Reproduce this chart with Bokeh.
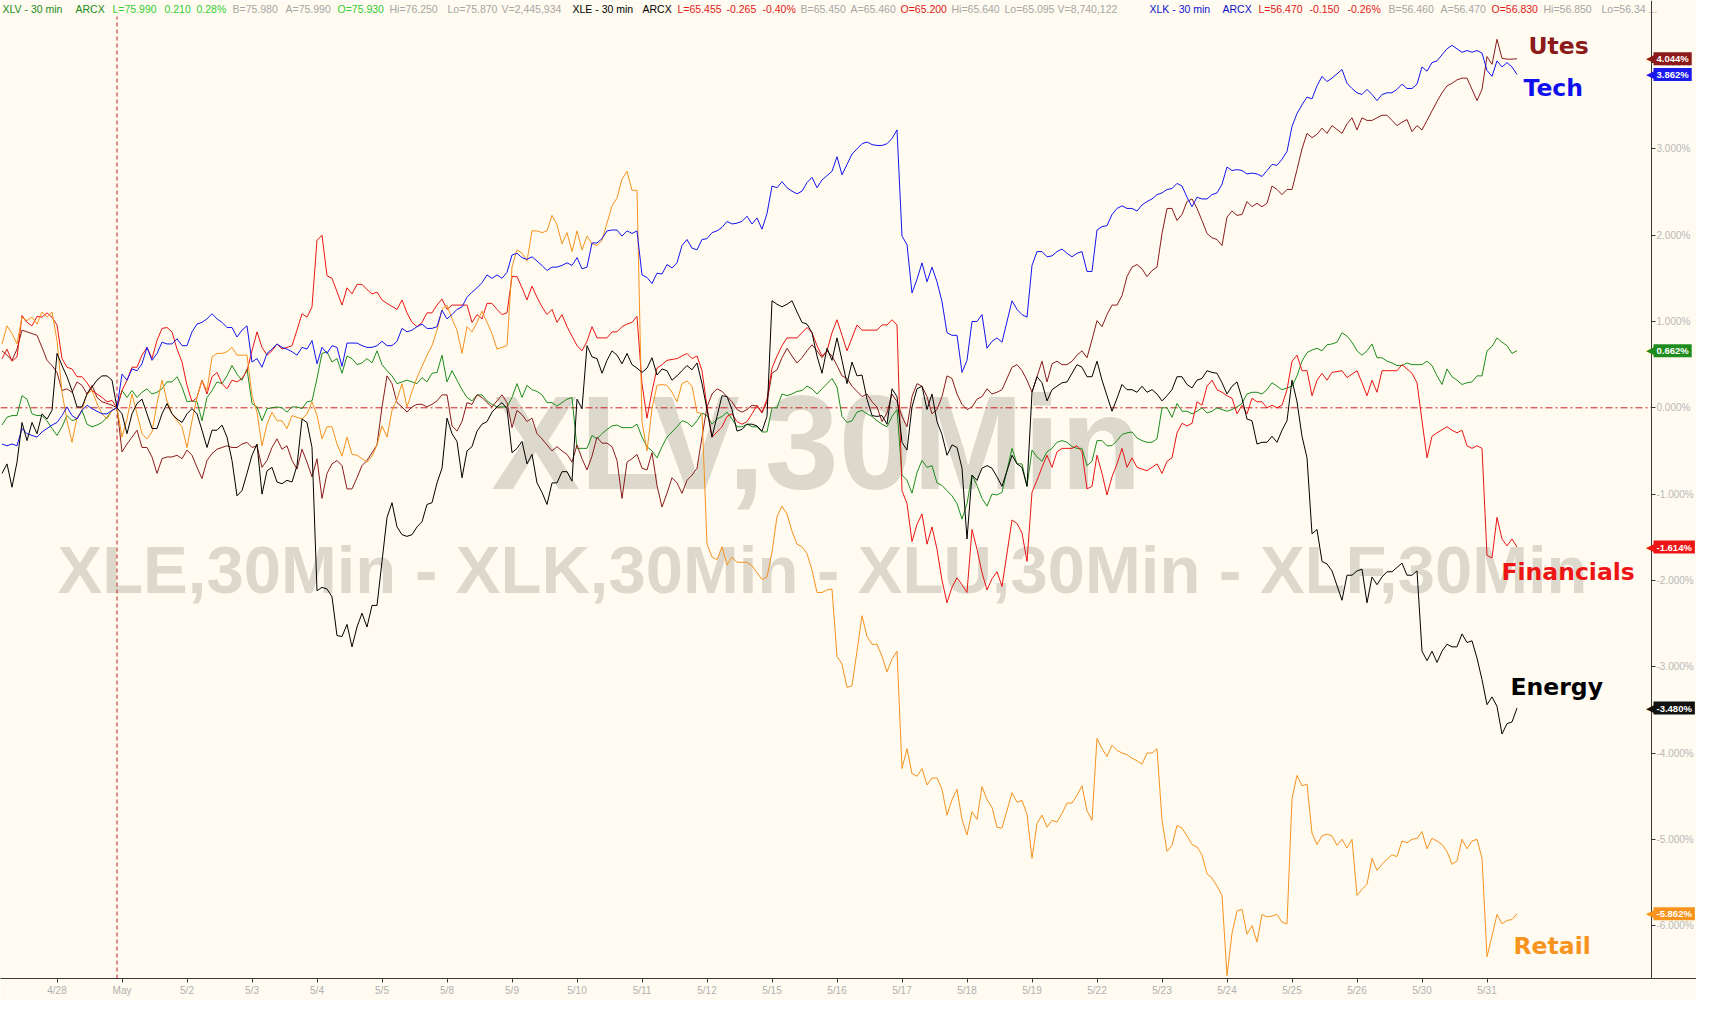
from bokeh.plotting import figure
from bokeh.models import Range1d, FixedTicker, PrintfTickFormatter, Label, ColumnDataSource
from bokeh.core.properties import value
from bokeh.embed import file_html
from bokeh.resources import INLINE

# ---------------- data (bar index: 13 half-hour bars per session, 0 = first bar of 4/28) ----------------
DAY_LABELS = ["4/28", "May", "5/2", "5/3", "5/4", "5/5", "5/8", "5/9", "5/10", "5/11", "5/12", "5/15",
              "5/16", "5/17", "5/18", "5/19", "5/22", "5/23", "5/24", "5/25", "5/26", "5/30", "5/31"]
BARS_PER_DAY = 13
BASE_BAR = 12
Y_TICKS = [-6, -5, -4, -3, -2, -1, 0, 1, 2, 3, 4]

XLF = [(-11,.57),(-10,.68),(-9,.54),(-8,.59),(-7,1.07),(-6,.99),(-5,.95),(-4,1.06),(-3,1.05),(-2,1.10),(-1,1.05),(0,.96),(1,.57),(2,.47),(3,.45),(4,.36),(5,.36),(6,.29),(7,.20),(9,.12),(10,.07),(11,.085),(12,0),(13,.20),(14,.32),(15,.47),(16,.47),(17,.61),(18,.70),(19,.57),(20,.78),(21,.92),(22,.93),(23,.88),(24,.68),(25,.53),(26,.26),(27,.07),(28,.12),(29,.32),(30,.16),(31,.36),(32,.41),(33,.28),(34,.22),(35,.32),(36,.30),(37,.34),(38,.43),(39,.66),(40,.88),(41,.70),(42,.61),(43,.66),(44,.74),(45,.68),(46,.70),(47,.72),(48,.90),(49,1.09),(50,1.05),(51,1.17),(52,1.94),(53,2.0),(54,1.53),(55,1.50),(57,1.19),(58,1.39),(59,1.32),(60,1.43),(61,1.43),(62,1.37),(63,1.32),(64,1.34),(65,1.25),(66,1.21),(68,1.14),(69,1.25),(70,1.10),(71,.99),(72,.94),(73,.99),(74,1.10),(75,1.10),(76,1.19),(77,1.26),(78,1.14),(79,1.19),(82,1.19),(83,.99),(84,1.08),(85,1.03),(86,1.21),(87,1.21),(88,1.14),(89,1.08),(90,1.10),(91,1.52),(92,1.52),(93,1.39),(94,1.25),(95,1.41),(96,1.28),(97,1.17),(98,1.08),(99,1.14),(100,.99),(101,1.08),(102,.94),(103,.83),(104,.72),(105,.66),(106,.77),(107,.94),(108,.81),(110,.81),(111,.88),(112,.88),(113,.94),(114,.97),(115,.99),(116,1.06),(117,.28),(118,-.12),(119,.19),(120,.46),(121,.50),(122,.55),(124,.57),(126,.63),(127,.57),(128,.60),(129,.43),(130,.01),(131,-.34),(132,-.28),(133,-.22),(134,-.10),(135,-.07),(136,-.16),(137,-.19),(138,-.16),(139,-.07),(140,.03),(141,-.05),(142,.10),(143,.46),(144,.60),(145,.72),(146,.81),(148,.81),(150,.93),(151,.87),(152,.72),(153,.60),(154,.66),(155,.87),(156,1.02),(157,.84),(158,.66),(159,.81),(160,.96),(161,.90),(164,.90),(165,.96),(166,.96),(167,1.02),(168,.96),(169,-.96),(170,-1.11),(171,-1.55),(172,-1.35),(173,-1.23),(174,-1.58),(175,-1.38),(176,-1.64),(177,-2.0),(178,-2.26),(179,-2.08),(180,-1.97),(181,-2.05),(182,-2.14),(183,-1.41),(184,-1.64),(185,-1.91),(186,-2.11),(187,-1.98),(188,-1.90),(189,-2.07),(191,-1.30),(192,-1.34),(193,-1.45),(194,-1.78),(195,-.98),(196,-.84),(197,-.69),(198,-.55),(199,-.69),(200,-.51),(201,-.47),(203,-.47),(204,-.44),(205,-.51),(206,-.94),(207,-.91),(208,-.55),(209,-.76),(210,-1.01),(211,-.80),(212,-.65),(213,-.47),(214,-.69),(215,-.58),(216,-.69),(218,-.73),(220,-.65),(221,-.76),(222,-.62),(223,-.58),(224,-.29),(225,-.18),(226,-.21),(227,-.18),(228,.07),(229,.03),(230,.25),(231,.32),(232,.21),(233,.18),(234,.14),(235,.11),(236,-.07),(237,.03),(238,-.07),(239,.11),(240,.07),(241,.07),(242,0),(243,.03),(244,0),(245,.03),(246,.21),(247,.54),(248,.61),(249,.43),(250,.43),(251,.14),(252,.32),(253,.40),(254,.32),(255,.41),(257,.43),(258,.35),(260,.43),(261,.29),(262,.14),(263,.32),(264,.18),(265,.43),(268,.43),(269,.50),(271,.40),(272,.29),(273,-.15),(274,-.58),(275,-.33),(276,-.29),(278,-.22),(279,-.26),(280,-.29),(281,-.26),(282,-.44),(283,-.47),(284,-.44),(285,-.47),(286,-1.71),(287,-1.74),(288,-1.27),(289,-1.52),(290,-1.60),(291,-1.52),(292,-1.614)]

XLK = [(-11,-.42),(-10,-.44),(-9,-.42),(-8,-.44),(-7,-.24),(-6,-.30),(-5,-.32),(-4,-.34),(-3,-.28),(-2,-.24),(-1,-.20),(0,-.17),(1,-.09),(2,.01),(3,-.09),(4,-.13),(5,-.03),(6,.03),(7,-.01),(8,-.04),(9,-.07),(10,-.07),(11,-.03),(12,0),(13,.39),(14,.32),(15,.45),(16,.43),(17,.51),(18,.70),(19,.55),(20,.63),(21,.76),(22,.74),(23,.74),(24,.80),(25,.72),(26,.72),(27,.88),(28,.97),(29,.99),(30,1.03),(31,1.09),(32,1.03),(33,.99),(34,.93),(35,.93),(36,.82),(37,.90),(38,.95),(39,.53),(40,.57),(41,.47),(42,.63),(43,.68),(44,.74),(45,.70),(46,.68),(47,.65),(48,.61),(49,.70),(50,.68),(51,.78),(52,.51),(53,.70),(54,.63),(55,.72),(56,.70),(57,.48),(58,.75),(60,.75),(61,.72),(62,.70),(63,.70),(64,.72),(65,.77),(66,.72),(67,.72),(68,.77),(69,.92),(70,.88),(71,.90),(72,.94),(73,.97),(74,.92),(75,.92),(76,.94),(77,1.13),(78,1.03),(79,1.08),(80,1.14),(81,1.17),(82,1.28),(83,1.34),(84,1.39),(85,1.45),(86,1.54),(87,1.50),(88,1.54),(89,1.50),(90,1.57),(91,1.77),(92,1.79),(93,1.74),(94,1.72),(95,1.75),(96,1.70),(97,1.65),(98,1.59),(99,1.63),(100,1.63),(101,1.65),(102,1.68),(103,1.65),(104,1.74),(105,1.61),(106,1.63),(107,1.91),(108,1.91),(109,1.96),(110,2.05),(111,2.06),(112,2.06),(113,1.99),(114,2.05),(115,2.02),(116,2.05),(117,1.54),(118,1.51),(119,1.44),(120,1.56),(121,1.55),(122,1.66),(123,1.62),(124,1.68),(125,1.88),(126,1.95),(127,1.85),(128,1.83),(129,1.95),(130,1.96),(131,2.03),(132,2.05),(133,2.09),(134,2.16),(135,2.13),(136,2.14),(137,2.16),(138,2.22),(139,2.13),(140,2.20),(141,2.07),(142,2.25),(143,2.57),(144,2.55),(145,2.62),(146,2.55),(147,2.51),(148,2.48),(149,2.51),(150,2.61),(151,2.67),(152,2.55),(153,2.64),(154,2.69),(155,2.74),(156,2.91),(157,2.70),(158,2.82),(159,2.94),(160,3.00),(161,3.06),(162,3.08),(163,3.05),(164,3.04),(165,3.04),(166,3.06),(167,3.12),(168,3.22),(169,1.99),(170,1.89),(171,1.33),(172,1.49),(173,1.68),(174,1.46),(175,1.63),(176,1.46),(177,1.23),(178,.87),(179,.84),(180,.84),(181,.41),(182,.55),(183,1.0),(184,1.0),(185,1.08),(186,.69),(187,.77),(188,.81),(189,.76),(191,1.24),(192,1.14),(193,1.08),(194,1.05),(195,1.65),(196,1.81),(197,1.81),(198,1.75),(199,1.76),(200,1.81),(201,1.84),(202,1.79),(203,1.75),(204,1.79),(205,1.81),(206,1.58),(207,1.58),(208,2.06),(209,2.10),(210,2.11),(211,2.24),(212,2.31),(213,2.34),(214,2.31),(215,2.31),(216,2.28),(217,2.35),(218,2.39),(219,2.42),(220,2.47),(221,2.49),(222,2.53),(223,2.54),(224,2.60),(225,2.57),(226,2.44),(227,2.33),(228,2.44),(229,2.42),(230,2.42),(231,2.47),(232,2.49),(233,2.59),(234,2.79),(235,2.75),(236,2.76),(237,2.75),(238,2.71),(239,2.72),(240,2.71),(241,2.68),(242,2.75),(243,2.82),(244,2.81),(245,2.88),(246,2.97),(247,3.26),(248,3.41),(249,3.51),(250,3.60),(251,3.58),(252,3.73),(253,3.84),(254,3.78),(255,3.82),(257,3.92),(258,3.76),(259,3.70),(260,3.65),(261,3.63),(262,3.69),(263,3.63),(264,3.56),(265,3.63),(266,3.65),(267,3.65),(268,3.69),(269,3.75),(270,3.70),(271,3.70),(272,3.75),(273,3.95),(274,3.90),(275,4.0),(276,4.02),(277,4.09),(278,4.16),(279,4.20),(280,4.16),(281,4.12),(282,4.14),(283,4.12),(284,4.14),(285,4.11),(286,3.91),(287,3.84),(288,4.02),(289,3.95),(290,4.0),(291,3.95),(292,3.862)]

XLU = [(-11,.66),(-10,.61),(-9,.55),(-8,.68),(-7,.90),(-6,.88),(-5,.86),(-4,.84),(-3,.70),(-2,.55),(-1,.49),(0,.41),(1,.20),(2,.22),(3,.18),(4,.30),(5,.26),(6,.16),(7,.26),(8,.12),(9,.07),(10,.05),(11,.03),(12,0),(13,-.51),(14,-.42),(15,-.34),(16,-.26),(17,-.46),(18,-.46),(19,-.57),(20,-.76),(21,-.59),(22,-.57),(23,-.57),(24,-.55),(25,-.59),(26,-.49),(27,-.55),(28,-.69),(29,-.82),(30,-.61),(31,-.53),(32,-.48),(33,-.46),(34,-.44),(35,-.46),(36,-.46),(37,-.42),(38,-.40),(39,-.46),(40,-.44),(41,-.69),(42,-.61),(43,-.46),(44,-.36),(45,-.48),(46,-.44),(47,-.61),(48,-.71),(49,-.48),(50,-.63),(51,-.80),(52,-.59),(53,-1.05),(54,-.76),(55,-.65),(56,-.61),(57,-.67),(58,-.94),(59,-.94),(60,-.81),(61,-.67),(62,-.61),(63,-.52),(64,-.43),(65,.01),(66,.37),(67,.28),(68,.06),(69,.01),(70,-.05),(71,.01),(72,.04),(73,.04),(74,.01),(75,.04),(76,.08),(77,.15),(78,.15),(79,-.21),(80,-.27),(81,-.16),(82,.06),(83,.04),(84,.15),(85,.12),(86,.06),(87,.01),(88,.08),(89,.15),(90,.06),(91,-.23),(92,-.03),(93,-.08),(94,-.16),(95,-.12),(96,-.30),(97,-.36),(98,-.43),(99,-.50),(100,-.45),(101,-.50),(102,-.54),(103,-.63),(104,-.43),(105,-.59),(106,-.72),(107,-.56),(108,-.34),(109,-.41),(110,-.41),(111,-.45),(112,-.61),(113,-1.05),(114,-.63),(115,-.59),(116,-.54),(117,-.70),(118,-.72),(119,-.52),(120,-.90),(121,-1.15),(122,-.99),(123,-.81),(124,-.87),(125,-.99),(126,-.84),(127,-.78),(128,-.70),(129,-.34),(130,.01),(131,.16),(132,.22),(133,.19),(134,.13),(135,.07),(136,-.02),(137,-.05),(138,-.02),(139,.03),(140,.02),(141,-.06),(142,.07),(143,.40),(144,.44),(145,.58),(146,.69),(147,.60),(148,.52),(149,.58),(150,.66),(151,.73),(152,.66),(153,.58),(154,.66),(155,.60),(156,.49),(157,.37),(158,.34),(159,.25),(160,.19),(161,.13),(162,.16),(163,.07),(164,.01),(165,-.16),(166,-.06),(167,.16),(168,.07),(169,-.10),(170,-.22),(171,.13),(172,.28),(173,.25),(174,.13),(175,-.07),(176,-.02),(177,.13),(178,.37),(179,.34),(180,.16),(181,.04),(182,-.02),(183,.01),(184,.10),(185,.13),(186,.22),(187,.16),(188,.18),(189,.21),(191,.47),(192,.50),(193,.43),(194,.32),(195,.18),(196,.36),(197,.54),(198,.30),(199,.51),(200,.54),(201,.50),(202,.50),(203,.54),(204,.61),(205,.66),(206,.58),(207,.79),(208,1.01),(209,.94),(210,1.08),(211,1.19),(212,1.19),(213,1.30),(214,1.52),(215,1.63),(216,1.66),(217,1.61),(218,1.52),(219,1.59),(220,1.63),(221,2.02),(222,2.31),(223,2.31),(224,2.17),(225,2.24),(226,2.39),(227,2.42),(228,2.31),(229,2.17),(230,2.02),(231,1.97),(232,1.95),(233,1.88),(234,2.21),(235,2.28),(236,2.23),(237,2.24),(238,2.39),(239,2.33),(240,2.37),(241,2.33),(242,2.37),(243,2.57),(244,2.53),(245,2.47),(246,2.53),(247,2.53),(248,2.76),(249,3.0),(250,3.18),(251,3.13),(252,3.17),(253,3.24),(254,3.18),(255,3.27),(257,3.18),(258,3.29),(259,3.36),(260,3.22),(261,3.36),(262,3.33),(263,3.33),(264,3.36),(265,3.39),(266,3.39),(267,3.33),(268,3.27),(269,3.31),(270,3.34),(271,3.20),(272,3.27),(273,3.22),(274,3.33),(275,3.44),(276,3.55),(277,3.65),(278,3.73),(279,3.76),(280,3.80),(281,3.82),(282,3.82),(283,3.69),(284,3.56),(285,3.69),(286,4.07),(287,3.98),(288,4.27),(289,4.05),(290,4.04),(291,4.04),(292,4.044)]

XLV = [(-11,-.20),(-10,-.11),(-9,-.09),(-8,-.09),(-7,.14),(-6,.10),(-5,-.07),(-4,-.09),(-3,-.09),(-2,-.15),(-1,-.24),(0,-.32),(1,-.22),(2,-.09),(3,-.15),(4,-.13),(5,-.03),(6,-.19),(7,-.22),(8,-.20),(9,-.17),(10,-.11),(11,-.03),(12,0),(13,.20),(14,.12),(15,.20),(16,.12),(17,.18),(18,.22),(19,.16),(20,.18),(21,.22),(22,.30),(23,.30),(24,.36),(25,.24),(26,.07),(27,.08),(28,.07),(29,-.15),(30,.12),(31,.20),(32,.30),(33,.28),(34,.37),(35,.49),(36,.39),(37,.32),(38,.45),(39,.05),(40,.01),(41,-.15),(42,-.01),(43,0),(44,.01),(45,0),(46,-.05),(47,.01),(48,.01),(49,-.01),(50,.07),(51,.08),(52,.34),(53,.63),(54,.65),(55,.53),(56,.57),(57,.40),(58,.60),(59,.57),(60,.50),(61,.52),(62,.57),(63,.52),(64,.66),(65,.50),(66,.43),(67,.37),(68,.28),(69,.30),(70,.32),(71,.30),(72,.28),(73,.35),(74,.30),(75,.40),(76,.41),(77,.61),(78,.30),(79,.43),(80,.32),(81,.21),(82,.12),(83,.08),(84,.15),(85,.15),(86,.08),(87,.04),(88,.01),(89,.01),(90,.01),(91,.12),(92,.28),(93,.12),(94,.26),(95,.21),(96,.19),(97,.15),(98,.06),(99,.06),(100,.02),(101,.06),(102,.10),(103,.12),(104,-.47),(105,-.47),(106,-.47),(107,-.32),(108,-.36),(109,-.30),(110,-.25),(111,-.21),(112,-.20),(113,-.23),(114,-.23),(115,-.23),(116,-.19),(117,-.34),(118,-.45),(119,-.50),(120,-.58),(121,-.45),(122,-.34),(123,-.28),(124,-.22),(125,-.15),(126,-.17),(127,-.22),(128,-.15),(129,-.06),(130,-.09),(131,-.19),(132,-.13),(133,-.10),(134,-.05),(135,-.13),(136,-.22),(137,-.22),(138,-.19),(139,-.22),(140,-.22),(141,-.28),(142,-.28),(143,0),(144,0),(145,.16),(146,.14),(147,.16),(148,.19),(149,.20),(150,.25),(151,.22),(152,.16),(153,.22),(154,.28),(155,.34),(156,.24),(157,-.10),(158,-.17),(159,-.15),(160,-.05),(161,-.03),(162,-.07),(163,-.10),(164,-.15),(165,-.19),(166,-.22),(167,-.10),(168,-.02),(169,-.78),(170,-.84),(171,-.99),(172,-.75),(173,-.61),(174,-.69),(175,-.67),(176,-.87),(177,-.90),(178,-.96),(179,-1.02),(180,-1.11),(181,-1.29),(182,-1.11),(183,-.78),(184,-.90),(185,-1.05),(186,-1.14),(187,-1.0),(188,-1.01),(189,-.98),(191,-.47),(192,-.65),(193,-.65),(194,-.91),(195,-.49),(196,-.57),(197,-.62),(198,-.51),(199,-.47),(200,-.40),(201,-.38),(202,-.40),(203,-.45),(204,-.47),(205,-.47),(206,-.67),(207,-.62),(208,-.38),(209,-.38),(210,-.44),(211,-.44),(212,-.38),(213,-.31),(214,-.29),(215,-.28),(216,-.35),(217,-.38),(218,-.40),(219,-.40),(220,-.36),(221,0),(222,0),(223,-.11),(224,.05),(225,-.04),(226,-.04),(227,-.07),(228,-.04),(229,0),(230,-.06),(231,-.04),(232,0),(233,-.02),(234,-.04),(235,-.02),(236,.01),(237,.05),(238,.16),(239,.18),(240,.18),(241,.16),(242,.21),(243,.29),(244,.25),(245,.21),(246,.23),(247,.25),(248,.37),(249,.54),(250,.64),(251,.67),(252,.69),(253,.66),(254,.73),(255,.74),(256,.76),(257,.87),(258,.83),(259,.76),(260,.66),(261,.61),(262,.66),(263,.74),(264,.58),(265,.58),(266,.54),(267,.52),(268,.49),(269,.49),(270,.52),(271,.50),(272,.50),(273,.50),(274,.54),(275,.49),(276,.37),(277,.27),(278,.45),(279,.36),(280,.32),(281,.27),(282,.29),(283,.30),(284,.37),(285,.37),(286,.66),(287,.71),(288,.81),(289,.76),(290,.72),(291,.63),(292,.662)]

XLE = [(-11,-.76),(-10,-.65),(-9,-.92),(-8,-.63),(-7,-.17),(-6,-.38),(-5,-.17),(-4,-.30),(-3,-.07),(-2,-.13),(-1,-.03),(0,.63),(1,.49),(2,.36),(3,.20),(4,.01),(5,.01),(6,.16),(7,.24),(8,.32),(9,.37),(10,.37),(11,.32),(12,0),(13,-.07),(14,-.30),(15,-.07),(16,.05),(17,.10),(18,-.07),(19,-.24),(20,-.24),(21,-.07),(22,.05),(23,-.07),(24,-.13),(25,-.17),(26,-.07),(27,-.01),(28,-.07),(29,-.26),(30,-.46),(31,-.26),(32,-.26),(33,-.20),(34,-.34),(35,-.61),(36,-1.02),(37,-.96),(38,-.76),(39,-.55),(40,-.42),(41,-1.00),(42,-.73),(43,-.69),(44,-.86),(45,-.88),(46,-.84),(47,-.86),(48,-.67),(49,-.13),(50,-.17),(51,-.46),(52,-2.12),(53,-2.08),(54,-2.10),(55,-2.19),(56,-2.64),(57,-2.65),(58,-2.51),(59,-2.77),(60,-2.54),(61,-2.38),(62,-2.54),(63,-2.29),(64,-2.29),(65,-1.78),(66,-1.27),(67,-1.10),(68,-1.38),(69,-1.47),(70,-1.49),(71,-1.47),(72,-1.38),(73,-1.32),(74,-1.12),(75,-1.10),(76,-.87),(77,-.70),(78,-.12),(79,-.30),(80,-.39),(81,-.81),(82,-.50),(83,-.45),(84,-.27),(85,-.19),(86,-.16),(87,-.05),(88,.01),(89,.06),(90,-.01),(91,-.52),(92,-.47),(93,-.39),(94,-.65),(95,-.54),(96,-.87),(97,-.98),(98,-1.12),(99,-.87),(100,-.87),(101,-.74),(102,-.74),(103,-.85),(104,.10),(105,-.01),(106,.72),(107,.59),(108,.57),(109,.40),(110,.55),(111,.66),(112,.61),(113,.51),(114,.63),(115,.50),(116,.46),(117,.41),(118,.46),(119,.58),(120,.38),(121,.45),(122,.43),(123,.32),(124,.37),(125,.43),(126,.49),(127,.44),(128,.52),(129,.28),(130,-.02),(131,-.34),(132,-.10),(133,.14),(134,.13),(135,-.02),(136,-.27),(137,-.25),(138,-.19),(139,-.19),(140,-.21),(141,-.27),(142,-.10),(143,1.24),(144,1.20),(145,1.17),(146,1.20),(147,1.24),(148,1.11),(149,.99),(150,.97),(151,.87),(152,.60),(153,.40),(154,.69),(155,.55),(156,.81),(157,.55),(158,.28),(159,.53),(160,.37),(161,.38),(162,.10),(163,-.09),(164,-.10),(165,-.09),(166,-.19),(167,.22),(168,.13),(169,-.40),(170,-.49),(171,.01),(172,.22),(173,.25),(174,-.02),(175,.16),(176,-.16),(177,-.31),(178,-.55),(179,-.43),(180,-.46),(181,-.70),(182,-1.52),(183,-.78),(184,-.84),(185,-.70),(186,-.67),(187,-.70),(188,-.80),(189,-.91),(191,-.55),(192,-.65),(193,-.69),(194,-.91),(195,.18),(196,.36),(197,.29),(198,.08),(199,.21),(200,.25),(201,.29),(202,.30),(203,.40),(204,.50),(205,.47),(206,.36),(207,.36),(208,.54),(209,.32),(210,.14),(211,-.04),(212,.11),(213,.27),(214,.21),(215,.21),(216,.18),(217,.25),(218,.18),(219,.21),(220,.16),(221,.08),(222,.14),(223,.21),(224,.36),(225,.36),(226,.27),(227,.23),(228,.32),(229,.34),(230,.43),(231,.41),(232,.40),(233,.29),(234,.16),(235,.25),(236,.30),(237,.11),(238,-.13),(239,-.15),(240,-.42),(241,-.40),(242,-.40),(243,-.33),(244,-.40),(245,-.26),(246,-.15),(247,.32),(248,.07),(249,-.33),(250,-.58),(251,-1.46),(252,-1.41),(253,-1.78),(254,-1.81),(255,-1.89),(257,-2.23),(258,-1.94),(259,-1.94),(260,-1.89),(261,-1.87),(262,-2.26),(263,-1.96),(264,-2.05),(265,-1.96),(266,-1.90),(267,-1.90),(268,-1.85),(269,-1.80),(270,-1.94),(271,-1.94),(272,-1.89),(273,-2.82),(274,-2.93),(275,-2.82),(276,-2.95),(277,-2.82),(278,-2.74),(279,-2.77),(280,-2.77),(281,-2.62),(282,-2.72),(283,-2.70),(284,-2.90),(285,-3.15),(286,-3.44),(287,-3.35),(288,-3.46),(289,-3.78),(290,-3.66),(291,-3.64),(292,-3.48)]

XRT = [(-11,.74),(-10,.95),(-9,.86),(-8,.74),(-7,1.05),(-6,1.01),(-5,1.05),(-4,.97),(-3,1.11),(-2,1.05),(-1,1.11),(0,.78),(1,.18),(2,-.15),(3,-.40),(4,-.11),(5,-.03),(6,.16),(7,.20),(8,.05),(9,-.07),(10,-.13),(11,-.03),(12,0),(13,-.34),(14,-.13),(15,.16),(16,-.07),(17,-.30),(18,-.36),(19,-.28),(20,.05),(21,.32),(22,.08),(23,-.07),(24,-.15),(25,-.22),(26,-.46),(27,-.15),(28,.12),(29,.32),(30,.20),(31,.59),(32,.63),(33,.63),(34,.65),(35,.70),(36,.61),(37,.61),(38,.61),(39,.14),(40,-.05),(41,-.44),(42,-.19),(43,-.05),(44,-.15),(45,-.15),(46,-.24),(47,-.09),(48,-.11),(49,-.13),(50,-.07),(51,.07),(52,-.09),(53,-.36),(54,-.22),(55,-.22),(56,-.42),(57,-.56),(58,-.34),(59,-.54),(60,-.55),(61,-.59),(62,-.63),(63,-.56),(64,-.43),(65,-.21),(66,-.34),(67,-.03),(68,.10),(69,.28),(70,.01),(71,.19),(72,.35),(73,.48),(74,.61),(75,.72),(76,.90),(77,1.14),(78,1.19),(79,1.03),(80,.90),(81,.63),(82,.94),(83,.88),(84,.99),(85,1.12),(86,.99),(87,.86),(88,.68),(89,.70),(90,.72),(91,1.63),(92,1.83),(93,1.79),(94,1.70),(95,2.05),(96,2.05),(97,2.03),(98,2.05),(99,2.23),(100,2.12),(101,1.90),(102,2.03),(103,1.81),(104,2.05),(105,1.83),(106,1.99),(107,1.90),(108,1.88),(109,1.94),(110,2.14),(111,2.34),(112,2.43),(113,2.65),(114,2.74),(115,2.52),(116,2.52),(117,-.16),(118,-.50),(119,-.01),(120,.26),(121,.27),(122,.26),(123,.18),(124,.07),(125,.28),(126,.31),(127,.25),(128,-.05),(129,-.07),(130,-1.58),(131,-1.73),(132,-1.76),(133,-1.61),(134,-1.82),(135,-1.73),(136,-1.79),(137,-1.79),(138,-1.79),(139,-1.83),(140,-1.91),(141,-1.99),(142,-1.96),(143,-1.67),(144,-1.26),(145,-1.14),(146,-1.23),(147,-1.43),(148,-1.58),(149,-1.61),(150,-1.69),(151,-1.88),(152,-2.14),(153,-2.14),(154,-2.11),(155,-2.10),(156,-2.88),(157,-2.97),(158,-3.24),(159,-3.22),(160,-2.82),(161,-2.41),(162,-2.65),(163,-2.74),(164,-2.74),(165,-2.88),(166,-3.06),(167,-2.91),(168,-2.82),(169,-4.18),(170,-3.95),(171,-4.24),(172,-4.27),(173,-4.18),(174,-4.37),(175,-4.29),(176,-4.29),(177,-4.42),(178,-4.72),(179,-4.54),(180,-4.42),(181,-4.77),(182,-4.95),(183,-4.68),(184,-4.77),(185,-4.39),(186,-4.54),(187,-4.63),(188,-4.86),(189,-4.87),(191,-4.46),(192,-4.57),(193,-4.55),(194,-4.71),(195,-5.22),(196,-4.82),(197,-4.72),(198,-4.86),(199,-4.78),(200,-4.80),(201,-4.70),(202,-4.58),(203,-4.58),(204,-4.49),(205,-4.38),(206,-4.67),(207,-4.78),(208,-3.83),(209,-3.95),(210,-4.04),(211,-3.91),(212,-3.97),(213,-4.00),(214,-4.02),(215,-4.06),(216,-4.09),(217,-4.13),(218,-4.00),(219,-4.00),(220,-3.95),(221,-4.78),(222,-5.14),(223,-5.07),(224,-4.84),(225,-4.87),(226,-4.96),(227,-5.06),(228,-5.09),(229,-5.18),(230,-5.40),(231,-5.45),(232,-5.54),(233,-5.65),(234,-6.58),(235,-6.09),(236,-5.83),(237,-5.81),(238,-6.10),(239,-6.00),(240,-6.19),(241,-5.87),(242,-5.90),(243,-5.89),(244,-5.87),(245,-5.96),(246,-5.98),(247,-4.53),(248,-4.26),(249,-4.38),(250,-4.36),(251,-4.93),(252,-5.06),(253,-4.96),(254,-4.94),(255,-4.96),(256,-5.07),(257,-5.0),(258,-5.10),(259,-5.0),(260,-5.65),(261,-5.58),(262,-5.52),(263,-5.22),(264,-5.36),(265,-5.29),(266,-5.23),(267,-5.18),(268,-5.20),(269,-5.02),(270,-5.04),(271,-5.0),(272,-4.99),(273,-4.91),(274,-5.11),(275,-4.99),(276,-5.02),(277,-5.06),(278,-5.14),(279,-5.29),(280,-5.25),(281,-5.0),(282,-5.11),(283,-5.02),(284,-5.0),(285,-5.22),(286,-6.36),(287,-6.12),(288,-5.87),(289,-5.98),(290,-5.94),(291,-5.93),(292,-5.862)]

SERIES_NAMES = ["XLV", "XLE", "XLK", "XLU", "XLF", "XRT"]
SERIES_LABELS = {"XLU": "Utes", "XLK": "Tech", "XLF": "Financials", "XLE": "Energy", "XRT": "Retail"}
SERIES_DATA = {"XLV": XLV, "XLE": XLE, "XLK": XLK, "XLU": XLU, "XLF": XLF, "XRT": XRT}

HEADER = [
    ("XLV - 30 min", "dk_green"), ("ARCX", "dk_green"), ("L=75.990", "lt_green"), ("0.210", "lt_green"),
    ("0.28%", "lt_green"), ("B=75.980", "gray"), ("A=75.990", "gray"), ("O=75.930", "lt_green"),
    ("Hi=76.250", "gray"), ("Lo=75.870", "gray"), ("V=2,445,934", "gray"),
    ("XLE - 30 min", "black"), ("ARCX", "black"), ("L=65.455", "red"), ("-0.265", "red"), ("-0.40%", "red"),
    ("B=65.450", "gray"), ("A=65.460", "gray"), ("O=65.200", "red"), ("Hi=65.640", "gray"),
    ("Lo=65.095", "gray"), ("V=8,740,122", "gray"),
    ("XLK - 30 min", "blue"), ("ARCX", "blue"), ("L=56.470", "red"), ("-0.150", "red"), ("-0.26%", "red"),
    ("B=56.460", "gray"), ("A=56.470", "gray"), ("O=56.830", "red"), ("Hi=56.850", "gray"), ("Lo=56.34 ...", "gray"),
]

# ---------------- styling / layout ----------------
BG = "#fffbf0"
COLORS = {"XLV": "#1e8c1e", "XLE": "#000000", "XLK": "#1414f0", "XLU": "#8b1c1c", "XLF": "#ea1515", "XRT": "#f5921e"}
TAG_COLORS = {"XLV": "#1e8c1e", "XLE": "#111111", "XLK": "#1a1aee", "XLU": "#8b1a1a", "XLF": "#ee1515", "XRT": "#f7941d"}
NAME_COLORS = {"XLU": "#8b1a1a", "XLK": "#1010ee", "XLF": "#ee1515", "XLE": "#000000", "XRT": "#f7941d"}
HDR_COLORS = {"dk_green": "#1a8a1a", "lt_green": "#33cc33", "gray": "#a6a6a6", "black": "#000000",
              "red": "#e01818", "blue": "#1010cc"}
HDR_X = [2, 75, 112, 164, 196, 232, 285, 337, 389, 447, 501, 572, 642, 677, 726, 762, 800, 850, 900, 951,
         1004, 1057, 1149, 1222, 1258, 1309, 1347, 1388, 1440, 1491, 1543, 1601]
NAME_PX = {"XLU": (1528, 45), "XLK": (1523, 87), "XLF": (1501, 571), "XLE": (1510, 686), "XRT": (1513, 945)}

W, H = 1696, 1000
FRAME_H = 978
AXIS_PX = 1651          # x pixel of the price axis line
PX_PER_BAR = 5.0
BAR0_PX = 56.5          # pixel of bar 0
ZERO_PY = 407.3         # pixel row of 0 %
PY_PER_PCT = 86.3

def px_to_bar(px):
    return (px - BAR0_PX) / PX_PER_BAR

def py_to_pct(py):
    return (ZERO_PY - py) / PY_PER_PCT

X0, X1 = px_to_bar(0), px_to_bar(W)
Y0, Y1 = py_to_pct(FRAME_H), py_to_pct(0)
AXIS_X = px_to_bar(AXIS_PX)

p = figure(width=W, height=H, output_backend="svg", toolbar_location=None,
           x_range=Range1d(X0, X1), y_range=Range1d(Y0, Y1), y_axis_location="right",
           min_border_left=0, min_border_top=0, min_border_right=0, min_border_bottom=H - FRAME_H)
p.background_fill_color = BG
p.border_fill_color = BG
p.outline_line_color = None
p.xgrid.visible = False
p.ygrid.visible = False

# axes
xa = p.xaxis[0]
xa.ticker = FixedTicker(ticks=[d * BARS_PER_DAY for d in range(len(DAY_LABELS))])
xa.major_label_overrides = {d * BARS_PER_DAY: lab for d, lab in enumerate(DAY_LABELS)}
xa.axis_line_color = "#3a3a3a"
xa.major_tick_line_color = "#3a3a3a"
xa.major_tick_in = 0
xa.major_tick_out = 4
xa.minor_tick_line_color = None
xa.major_label_text_color = "#b0b0b0"
xa.major_label_text_font = "Liberation Sans"
xa.major_label_text_font_size = "10px"
xa.major_label_standoff = 2

ya = p.yaxis[0]
ya.fixed_location = AXIS_X
ya.ticker = FixedTicker(ticks=Y_TICKS)
ya.formatter = PrintfTickFormatter(format="%.3f%%")
ya.axis_line_color = "#3a3a3a"
ya.major_tick_line_color = "#3a3a3a"
ya.major_tick_in = 0
ya.major_tick_out = 4
ya.minor_tick_line_color = None
ya.major_label_text_color = "#b8b8b8"
ya.major_label_text_font = "Liberation Sans"
ya.major_label_text_font_size = "10px"
ya.major_label_standoff = 1

# watermarks
wm = ColumnDataSource(dict(x=[px_to_bar(816)], y=[py_to_pct(442)], t=["XLV,30Min"]))
p.text(x="x", y="y", text="t", source=wm, text_font=value("Liberation Sans"), text_font_style="bold",
       text_font_size="133px", text_color="#dcd8cc", text_align="center", text_baseline="middle")
wm2 = ColumnDataSource(dict(x=[px_to_bar(57)], y=[py_to_pct(569)], t=["XLE,30Min - XLK,30Min - XLU,30Min - XLF,30Min"]))
p.text(x="x", y="y", text="t", source=wm2, text_font=value("Liberation Sans"), text_font_style="bold",
       text_font_size="67px", text_color="#dcd8cc", text_align="left", text_baseline="middle")

# reference lines (zero line up to the price axis, session-base vertical line below the header)
ref_h = ColumnDataSource(dict(x0=[X0], x1=[AXIS_X], y0=[0], y1=[0]))
p.segment("x0", "y0", "x1", "y1", source=ref_h, line_color="#c81e1e", line_width=1, line_dash="7 3 2 3")
ref_v = ColumnDataSource(dict(x0=[BASE_BAR], x1=[BASE_BAR], y0=[Y0], y1=[py_to_pct(16)]))
p.segment("x0", "y0", "x1", "y1", source=ref_v, line_color="#c81e1e", line_width=1, line_dash="4 3")

# series
for name in ["XLV", "XLU", "XLF", "XRT", "XLK", "XLE"]:
    pts = SERIES_DATA[name]
    src = ColumnDataSource(dict(x=[a for a, b in pts], y=[b for a, b in pts]))
    p.line("x", "y", source=src, line_color=COLORS[name], line_width=1)

# header
for (txt, ck), hx in zip(HEADER, HDR_X):
    p.add_layout(Label(x=px_to_bar(hx), y=py_to_pct(8), text=txt, text_color=HDR_COLORS[ck],
                       text_font="Liberation Sans", text_font_size="10.5px", text_baseline="middle",
                       text_align="left"))

# series name labels
for name, (nx, ny) in NAME_PX.items():
    p.add_layout(Label(x=px_to_bar(nx), y=py_to_pct(ny), text=SERIES_LABELS[name], text_color=NAME_COLORS[name],
                       text_font="DejaVu Sans", text_font_style="bold", text_font_size="23.5px",
                       text_baseline="middle", text_align="left"))

# last-value tags on the price axis
for name in SERIES_NAMES:
    last = SERIES_DATA[name][-1][1]
    p.add_layout(Label(x=px_to_bar(AXIS_PX + 3), y=last, text="◀", text_color=TAG_COLORS[name], text_font="DejaVu Sans",
                       text_font_size="11px", text_baseline="middle", text_align="right"))
    p.add_layout(Label(x=px_to_bar(AXIS_PX + 2), y=last, text="%.3f%%" % last, text_color="white", text_font="Liberation Sans",
                       text_font_style="bold", text_font_size="9.5px", text_baseline="middle", text_align="left",
                       background_fill_color=TAG_COLORS[name], padding=dict(left=3, right=3, top=1, bottom=1)))

open("out.html", "w").write(file_html(p, INLINE))
